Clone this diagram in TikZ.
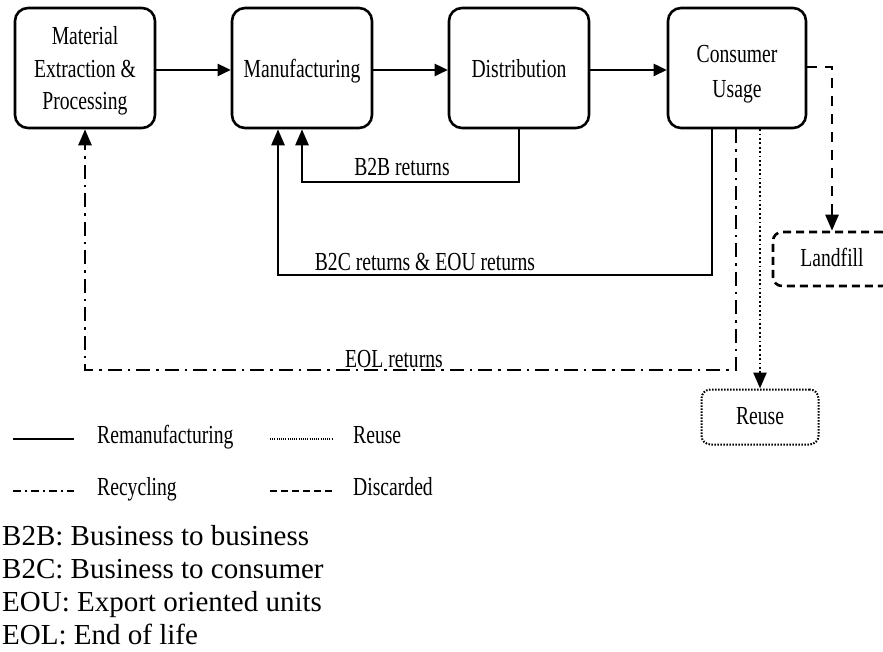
\documentclass[tikz,border=0pt]{standalone}
\usepackage{fontspec}
\setmainfont{Liberation Serif}
\newfontfamily\diagfont{Liberation Serif}[FakeStretch=0.755]
\usetikzlibrary{arrows.meta}
\begin{document}
\begin{tikzpicture}[x=1pt,y=-1pt,
  every node/.style={font=\diagfont\fontsize{26}{32}\selectfont, inner sep=0pt},
  stagebox/.style={draw, line width=2.6pt, rounded corners=13pt, minimum height=120pt},
  txt/.style={anchor=base},
  flow/.style={line width=2.6pt, -{Triangle[length=13pt,width=12pt]}},
  upflow/.style={line width=2.6pt, -{Triangle[length=16pt,width=13pt]}},
  recyc/.style={line width=2.7pt, dash pattern=on 14pt off 6pt on 2.5pt off 6pt},
  reuseline/.style={line width=2.4pt, dash pattern=on 1.8pt off 2.6pt},
  discard/.style={line width=2.6pt, dash pattern=on 10pt off 8pt},
  legtext/.style={anchor=base west},
  note/.style={anchor=base west, font=\fontsize{29}{33}\selectfont}
]
\useasboundingbox (0,0) rectangle (883,652);

% stages
\node[stagebox, minimum width=140pt] (mat) at (85,68) {};
\node[stagebox, minimum width=140pt] (man) at (302,68) {};
\node[stagebox, minimum width=140pt] (dis) at (519,68) {};
\node[stagebox, minimum width=138pt] (con) at (737,68) {};
\node[txt] (matT1) at (85,45) {Material};
\node[txt] (matT2) at (85,78) {Extraction \&};
\node[txt] (matT3) at (85,110) {Processing};
\node[txt] (manT) at (302,78) {Manufacturing};
\node[txt] (disT) at (519,78) {Distribution};
\node[txt] (conT1) at (737,63) {Consumer};
\node[txt] (conT2) at (737,98) {Usage};

% end nodes
\node[draw, line width=2pt, dash pattern=on 1.5pt off 1.5pt, rounded corners=9pt,
      minimum width=117pt, minimum height=55pt] (reuse) at (760,417) {};
\node[txt] (reuseT) at (760,424) {Reuse};
\node[draw, line width=2.6pt, dash pattern=on 8pt off 5pt, rounded corners=9pt,
      minimum width=118pt, minimum height=54pt] (land) at (832,259) {};
\node[txt] (landT) at (832,266) {Landfill};

% forward flow
\draw[flow] (mat.east |- 0,70) -- (man.west |- 0,70);
\draw[flow] (man.east |- 0,70) -- (dis.west |- 0,70);
\draw[flow] (dis.east |- 0,70) -- (con.west |- 0,70);

% B2B returns
\coordinate (b2bR) at (519,182);
\coordinate (b2bL) at (302,182);
\draw[upflow] (b2bR |- dis.south) -- (b2bR) -- (b2bL) -- (b2bL |- man.south);
\node[txt] (b2blbl) at (402,176) {B2B returns};

% B2C returns
\coordinate (b2cR) at (712,275);
\coordinate (b2cL) at (278,275);
\draw[upflow] (b2cR |- con.south) -- (b2cR) -- (b2cL) -- (b2cL |- man.south);
\node[txt] (b2clbl) at (425,270) {B2C returns \& EOU returns};

% EOL returns
\coordinate (eolR) at (736,370);
\coordinate (eolL) at (85,370);
\draw[recyc] (eolR |- con.south) -- (eolR) -- (eolL) -- ([yshift=-15pt]eolL |- mat.south);
\draw[upflow] ([yshift=-17pt]eolL |- mat.south) -- (eolL |- mat.south);
\node[txt] (eollbl) at (394,367) {EOL returns};

% reuse
\draw[reuseline] (reuse.north |- con.south) -- ([yshift=15pt]reuse.north);
\draw[upflow] ([yshift=17pt]reuse.north) -- (reuse.north);

% discarded
\coordinate (dk) at (832,67);
\draw[discard] (con.east |- dk) -- (dk) -- ([yshift=15pt]land.north);
\draw[upflow] ([yshift=17pt]land.north) -- (land.north);

% legend
\coordinate (l1a) at (13,439); \coordinate (l1b) at (74,439);
\coordinate (l2a) at (270,439); \coordinate (l2b) at (332,439);
\coordinate (l3a) at (13,491); \coordinate (l3b) at (74,491);
\coordinate (l4a) at (270,491); \coordinate (l4b) at (332,491);
\draw[line width=2.8pt] (l1a) -- (l1b);
\draw[line width=1.4pt, dash pattern=on 1pt off 1.2pt] (l2a) -- (l2b);
\draw[line width=2.6pt, dash pattern=on 8pt off 4pt on 2pt off 4pt] (l3a) -- (l3b);
\draw[line width=2.6pt, dash pattern=on 7pt off 4pt] (l4a) -- (l4b);
\node[legtext] (t1) at (97,443) {Remanufacturing};
\node[legtext] (t2) at (353,443) {Reuse};
\node[legtext] (t3) at (97,495) {Recycling};
\node[legtext] (t4) at (353,495) {Discarded};

% footnotes
\node[note] (n1) at (2,545) {B2B: Business to business};
\node[note] (n2) at (2,578) {B2C: Business to consumer};
\node[note] (n3) at (2,611) {EOU: Export oriented units};
\node[note] (n4) at (2,644) {EOL: End of life};
\end{tikzpicture}
\end{document}
